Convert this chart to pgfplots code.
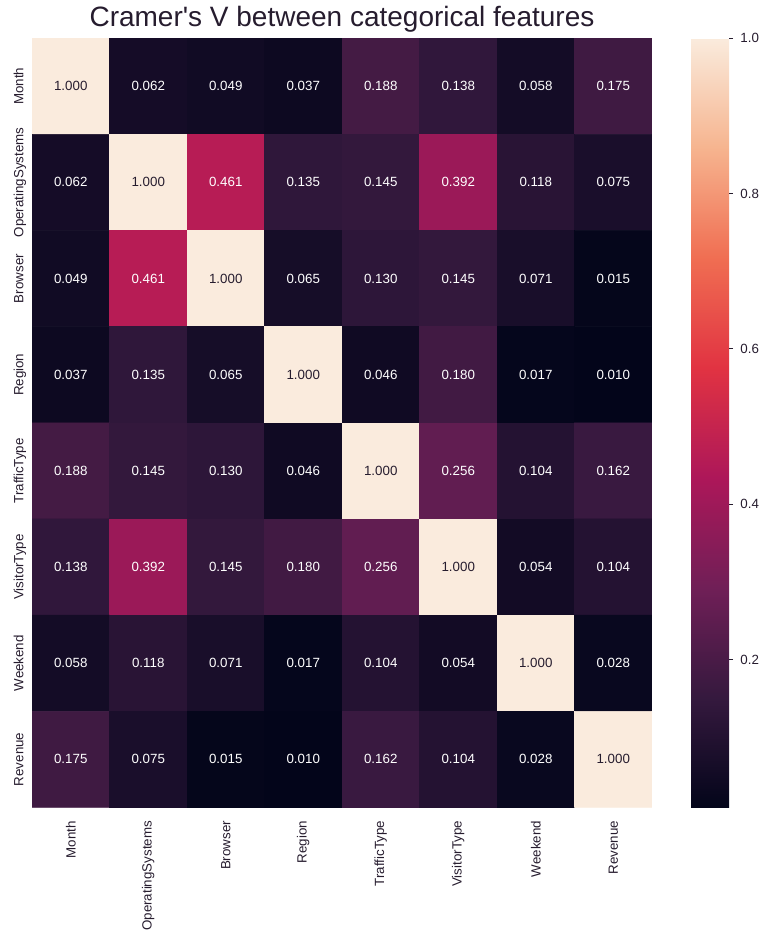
\documentclass[border=0pt]{standalone}
\usepackage{pgfplots}
\pgfplotsset{compat=1.18}
\usepackage{pgfplotstable}
\usepackage{fontspec}
\setmainfont{Liberation Sans}
\definecolor{textdark}{RGB}{38,28,46}
\pgfplotsset{/pgf/number format/assume math mode=true}
\pgfplotstableread{
x y v
0 0 1.000
1 0 0.062
2 0 0.049
3 0 0.037
4 0 0.188
5 0 0.138
6 0 0.058
7 0 0.175
0 1 0.062
1 1 1.000
2 1 0.461
3 1 0.135
4 1 0.145
5 1 0.392
6 1 0.118
7 1 0.075
0 2 0.049
1 2 0.461
2 2 1.000
3 2 0.065
4 2 0.130
5 2 0.145
6 2 0.071
7 2 0.015
0 3 0.037
1 3 0.135
2 3 0.065
3 3 1.000
4 3 0.046
5 3 0.180
6 3 0.017
7 3 0.010
0 4 0.188
1 4 0.145
2 4 0.130
3 4 0.046
4 4 1.000
5 4 0.256
6 4 0.104
7 4 0.162
0 5 0.138
1 5 0.392
2 5 0.145
3 5 0.180
4 5 0.256
5 5 1.000
6 5 0.054
7 5 0.104
0 6 0.058
1 6 0.118
2 6 0.071
3 6 0.017
4 6 0.104
5 6 0.054
6 6 1.000
7 6 0.028
0 7 0.175
1 7 0.075
2 7 0.015
3 7 0.010
4 7 0.162
5 7 0.104
6 7 0.028
7 7 1.000
}\cramer
\begin{document}
\begin{tikzpicture}
\useasboundingbox (-24pt,-100.9pt) rectangle (552pt,605.6pt);
\begin{axis}[
  scale only axis,
  width=465pt, height=577pt,
  xmin=-0.5, xmax=7.5, ymin=-0.5, ymax=7.5,
  y dir=reverse,
  enlargelimits=false,
  axis line style={draw=none},
  major tick length=0pt,
  xtick={0,...,7}, ytick={0,...,7},
  xticklabels={Month,OperatingSystems,Browser,Region,TrafficType,VisitorType,Weekend,Revenue},
  yticklabels={Month,OperatingSystems,Browser,Region,TrafficType,VisitorType,Weekend,Revenue},
  xticklabel style={rotate=90, anchor=east, inner sep=0pt, font=\fontsize{10}{12}\selectfont, text=textdark},
  xticklabel shift=10pt,
  yticklabel style={rotate=90, anchor=base, font=\fontsize{10}{12}\selectfont, text=textdark},
  yticklabel shift=6.5pt,
  title={Cramer\textquotesingle s V between categorical features},
  title style={at={(0.5,1)}, anchor=base, yshift=2.4pt, font=\fontsize{21}{25}\selectfont, text=textdark},
  colormap={rocket}{rgb255=(3,5,26) rgb255=(53,25,62) rgb255=(112,31,87) rgb255=(173,23,89) rgb255=(225,51,66) rgb255=(240,110,82) rgb255=(246,180,143) rgb255=(250,235,221)},
  point meta min=0.010, point meta max=1.0,
  colorbar,
  colorbar/width=28.5pt,
  colorbar style={
    at={(parent axis.north east)}, anchor=north west,
    xshift=20.75pt,
    height=577pt,
    axis line style={draw=none},
    ytick={0.2,0.4,0.6,0.8,1.0},
    yticklabel style={/pgf/number format/.cd, fixed, fixed zerofill, precision=1, /tikz/.cd, font=\fontsize{10}{12}\selectfont, text=textdark},
    ytick pos=right,
    tick align=outside,
    major tick length=3pt,
    ytick style={draw=textdark, line width=0.75pt},
    yticklabel shift=2pt,
  },
]
\addplot[matrix plot*, mesh/cols=8, mesh/rows=8, point meta=explicit,
  nodes near coords={\ifdim\pgfplotspointmetatransformed pt>900pt\color{textdark}\else\color{white}\fi\pgfmathprintnumber[fixed,fixed zerofill,precision=3]{\pgfplotspointmeta}},
  nodes near coords align={center},
  every node near coord/.append style={font=\fontsize{10}{12}\selectfont, anchor=center},
] table[x=x, y=y, meta=v] {\cramer};
\end{axis}
\end{tikzpicture}
\end{document}
